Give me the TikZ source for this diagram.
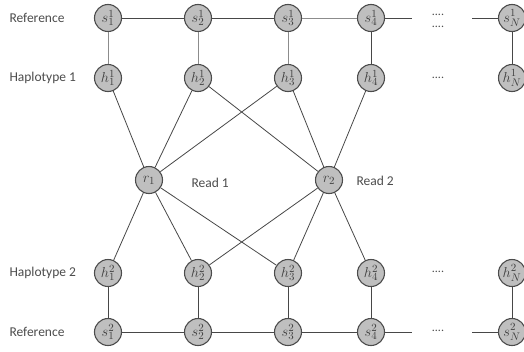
\documentclass[tikz,border=0pt]{standalone}
\usepackage{fontspec}
\setmainfont{Carlito}
\begin{document}
\begin{tikzpicture}[x=1pt,y=-1pt,
  vnode/.style={circle,draw=black!70,fill=black!25,line width=1.1pt,minimum size=27pt,inner sep=0pt,text=black!75,font=\fontsize{15}{17}\selectfont},
  edge/.style={draw=black!72,line width=0.8pt},
  vedge/.style={draw=black!45,line width=0.8pt},
  lab/.style={anchor=west,text=black!70,font=\fontsize{13.5}{15}\selectfont},
  dots/.style={text=black!70,font=\fontsize{12}{13}\selectfont}]
\useasboundingbox (0,0) rectangle (524,351);
% top reference
\node[vnode] (s11) at (108,18) {$s_1^1$};
\node[vnode] (s21) at (198,18) {$s_2^1$};
\node[vnode] (s31) at (288,18) {$s_3^1$};
\node[vnode] (s41) at (371,18) {$s_4^1$};
\node[vnode] (sN1) at (512,18) {$s_N^1$};
% haplotype 1
\node[vnode] (h11) at (108,78) {$h_1^1$};
\node[vnode] (h21) at (198,78) {$h_2^1$};
\node[vnode] (h31) at (288,78) {$h_3^1$};
\node[vnode] (h41) at (371,78) {$h_4^1$};
\node[vnode] (hN1) at (512,78) {$h_N^1$};
% reads
\node[vnode] (r1) at (149,180) {$r_1$};
\node[vnode] (r2) at (329,180) {$r_2$};
% haplotype 2
\node[vnode] (h12) at (108,273) {$h_1^2$};
\node[vnode] (h22) at (198,273) {$h_2^2$};
\node[vnode] (h32) at (288,273) {$h_3^2$};
\node[vnode] (h42) at (371,273) {$h_4^2$};
\node[vnode] (hN2) at (512,273) {$h_N^2$};
% bottom reference
\node[vnode] (s12) at (108,332) {$s_1^2$};
\node[vnode] (s22) at (198,332) {$s_2^2$};
\node[vnode] (s32) at (288,332) {$s_3^2$};
\node[vnode] (s42) at (371,332) {$s_4^2$};
\node[vnode] (sN2) at (512,332) {$s_N^2$};
% labels
\node[lab] (l1) at (6,18) {Reference};
\node[lab] (l2) at (6,78) {Haplotype 1};
\node[lab] (l3) at (6,273) {Haplotype 2};
\node[lab] (l4) at (6,332) {Reference};
\node[lab] (lr1) at (188,183) {Read 1};
\node[lab] (lr2) at (353,181) {Read 2};
% dots
\node[dots] (d1) at (438,15) {....};
\node[dots] (d2) at (438,27) {....};
\node[dots] (d3) at (438,78) {....};
\node[dots] (d4) at (438,272) {....};
\node[dots] (d5) at (438,331) {....};
\coordinate (e1) at (412,18);
\coordinate (e2) at (472,18);
\coordinate (e3) at (412,332);
\coordinate (e4) at (472,332);
% horizontal edges
\draw[edge] (s11) -- (s21);
\draw[edge] (s21) -- (s31);
\draw[vedge] (s31) -- (s41);
\draw[edge] (s41) -- (e1);
\draw[edge] (e2) -- (sN1);
\draw[edge] (s12) -- (s22);
\draw[edge] (s22) -- (s32);
\draw[edge] (s32) -- (s42);
\draw[edge] (s42) -- (e3);
\draw[edge] (e4) -- (sN2);
% vertical edges
\draw[vedge] (s11) -- (h11);
\draw[vedge] (s21) -- (h21);
\draw[vedge] (s31) -- (h31);
\draw[edge] (s41) -- (h41);
\draw[edge] (sN1) -- (hN1);
\draw[edge] (h12) -- (s12);
\draw[edge] (h22) -- (s22);
\draw[edge] (h32) -- (s32);
\draw[edge] (h42) -- (s42);
\draw[edge] (hN2) -- (sN2);
% read edges
\draw[edge] (h11) -- (r1);
\draw[edge] (h21) -- (r1);
\draw[edge] (h31) -- (r1);
\draw[edge] (h21) -- (r2);
\draw[edge] (h31) -- (r2);
\draw[edge] (h41) -- (r2);
\draw[edge] (r1) -- (h12);
\draw[edge] (r1) -- (h22);
\draw[edge] (r1) -- (h32);
\draw[edge] (r2) -- (h22);
\draw[edge] (r2) -- (h32);
\draw[edge] (r2) -- (h42);
\end{tikzpicture}
\end{document}
